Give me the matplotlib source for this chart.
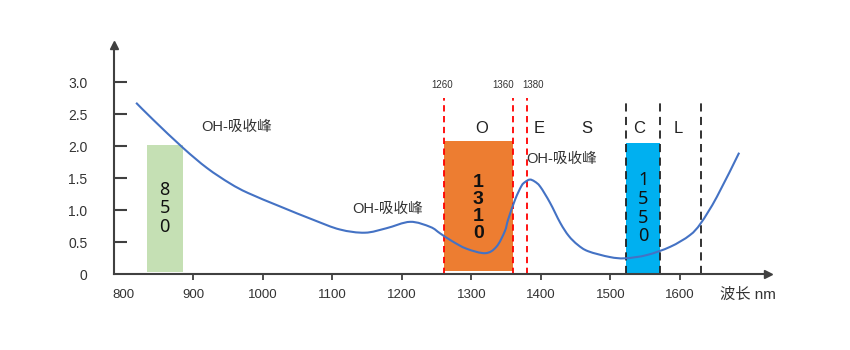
import matplotlib
matplotlib.use("Agg")
import matplotlib.pyplot as plt
import numpy as np
from matplotlib.path import Path
from matplotlib.patches import PathPatch

plt.rcParams['font.family'] = ['Liberation Sans', 'Noto Sans CJK SC']

# fibre attenuation curve: wavelength (nm) and loss (dB/km)
wavelength = [818, 843, 886, 920, 953, 979, 1025, 1073, 1111, 1147, 1178, 1212,
              1241, 1255, 1272, 1293, 1320, 1336, 1348, 1353, 1363, 1372, 1377,
              1384, 1391, 1399, 1413, 1428, 1440, 1453, 1468, 1499, 1521, 1552,
              1586, 1614, 1630, 1653, 1685]
loss = [2.68, 2.41, 1.97, 1.66, 1.42, 1.27, 1.06, 0.85, 0.70, 0.65, 0.72, 0.82,
        0.74, 0.64, 0.52, 0.40, 0.33, 0.43, 0.67, 0.86, 1.17, 1.38, 1.44,
        1.48, 1.45, 1.37, 1.12, 0.80, 0.60, 0.46, 0.36, 0.27, 0.25, 0.30,
        0.43, 0.61, 0.80, 1.21, 1.90]

# transmission windows
window_names = ["8\n5\n0", "1\n3\n1\n0", "1\n5\n5\n0"]
window_left = [833, 1260, 1523]
window_right = [886, 1360, 1571]
window_top = [2.02, 2.08, 2.05]
window_bottom = [0.04, 0.05, 0.0]
window_colors = ["#c5e0b4", "#ed7d31", "#00b0f0"]
window_label_x = [859, 1310, 1547]

# band edges
red_edges = [1260, 1360, 1380]
red_edge_labels = ["1260", "1360", "1380"]
black_edges = [1523, 1571, 1630]

band_letters = ["O", "E", "S", "C", "L"]
band_letter_x = [1315, 1397, 1466, 1541, 1598]

# OH absorption peak notes
oh_x = [963, 1179, 1430]
oh_y = [2.31, 1.02, 1.81]

x_ticks = [800, 900, 1000, 1100, 1200, 1300, 1400, 1500, 1600]
y_ticks = [0, 0.5, 1.0, 1.5, 2.0, 2.5, 3.0]
y_tick_labels = ["0", "0.5", "1.0", "1.5", "2.0", "2.5", "3.0"]

axis_color = "#404040"
text_color = "#333333"


def smooth_path(xs, ys):
    # Catmull-Rom through the points, written as cubic Bezier segments
    pts = np.column_stack([xs, ys]).astype(float)
    ext = np.vstack([pts[0], pts, pts[-1]])
    verts = [pts[0]]
    codes = [Path.MOVETO]
    for i in range(1, len(ext) - 2):
        p0, p1, p2, p3 = ext[i - 1], ext[i], ext[i + 1], ext[i + 2]
        verts += [p1 + (p2 - p0) / 6, p2 - (p3 - p1) / 6, p2]
        codes += [Path.CURVE4] * 3
    return Path(verts, codes)


fig = plt.figure(figsize=(8.5, 3.5), dpi=100)
ax = fig.add_axes([114 / 850, (350 - 274.3) / 350, 654 / 850, 229.3 / 350])
ax.set_xlim(786.2, 1726.5)
ax.set_ylim(0, 229.3 / 64)

for l, r, b, t, c in zip(window_left, window_right, window_bottom, window_top, window_colors):
    ax.bar(l, t - b, width=r - l, bottom=b, align='edge', color=c, zorder=1)

for i, (name, x) in enumerate(zip(window_names, window_label_x)):
    if i == 1:
        ax.text(x, 1.04, name, ha='center', va='center', fontsize=14, fontweight='bold',
                linespacing=1.0, color='#111111', family=['Liberation Sans'], zorder=4)
    else:
        ax.text(x, 1.03, name, ha='center', va='center', fontsize=13,
                linespacing=1.05, color='#111111', family=['Noto Sans'], zorder=4)

ax.vlines(red_edges, 0, 2.75, colors='#ff0000', linestyles=(0, (3.5, 2.5)), lw=1.3, zorder=2)
ax.vlines(black_edges, 0, 2.72, colors='#222222', linestyles=(0, (4.5, 3)), lw=1.3, zorder=2)
for x, s, dx in zip(red_edges, red_edge_labels, [-1, -10, 6]):
    ax.annotate(s, xy=(x, 2.96), xytext=(dx, 0), textcoords='offset pixels',
                ha='center', va='center', fontsize=7, color=text_color)

for x, s in zip(band_letter_x, band_letters):
    ax.text(x, 2.28, s, ha='center', va='center', fontsize=12, color='#222222')

for x, y in zip(oh_x, oh_y):
    ax.text(x, y, "OH-吸收峰", ha='center', va='center', fontsize=10.5, color=text_color)

ax.add_patch(PathPatch(smooth_path(wavelength, loss), fill=False,
                       edgecolor='#4472c4', lw=1.5, zorder=3))

# axes with arrow heads
for side in ['top', 'right']:
    ax.spines[side].set_visible(False)
for side in ['left', 'bottom']:
    ax.spines[side].set_color(axis_color)
    ax.spines[side].set_linewidth(1.5)
ax.plot(1, 0, marker='>', ms=6, color=axis_color, transform=ax.transAxes, clip_on=False)
ax.plot(0, 1, marker='^', ms=6, color=axis_color, transform=ax.transAxes, clip_on=False)

ax.set_xticks(x_ticks)
ax.set_xticklabels([str(v) for v in x_ticks])
ax.xaxis.get_major_ticks()[0].tick1line.set_visible(False)
ax.tick_params(axis='x', direction='out', length=4.5, width=1.3, pad=6,
               colors=axis_color, labelsize=9.5, labelcolor=text_color)
ax.set_yticks(y_ticks)
ax.set_yticklabels(y_tick_labels)
ax.yaxis.get_major_ticks()[0].tick1line.set_visible(False)
ax.tick_params(axis='y', direction='in', length=9.5, width=1.5, pad=19,
               colors=axis_color, labelsize=10, labelcolor=text_color)

ax.text(1698, -0.32, "波长 nm", ha='center', va='center', fontsize=11,
        color=text_color, clip_on=False)

fig.savefig("out.png", dpi=100)
